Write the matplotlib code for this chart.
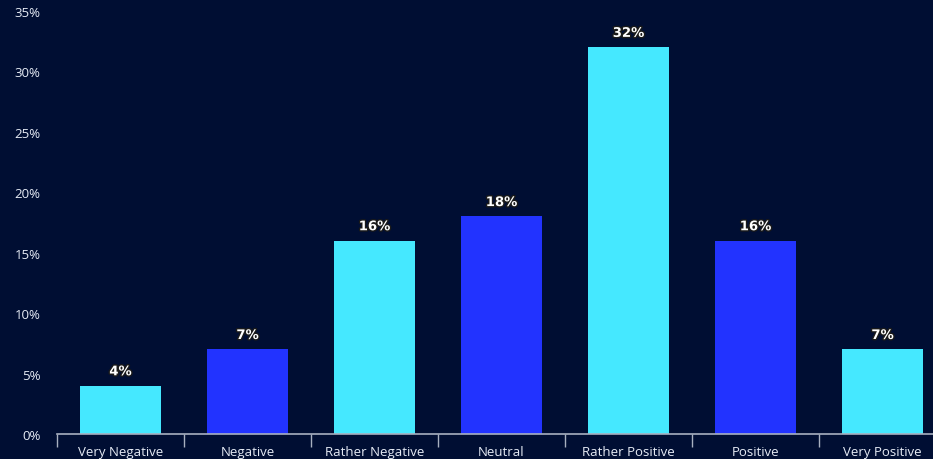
import numpy as np
import matplotlib.pyplot as plt
import matplotlib.patheffects as pe
from matplotlib.ticker import FixedLocator, NullFormatter

# Sentiment distribution
categories = ['Very Negative', 'Negative', 'Rather Negative', 'Neutral',
              'Rather Positive', 'Positive', 'Very Positive']
shares = [4, 7, 16, 18, 32, 16, 7]
bar_colors = ['#45e8ff', '#2233ff', '#45e8ff', '#2233ff', '#45e8ff', '#2233ff', '#45e8ff']

bg = '#000e33'
txt = '#e6ebf5'

fig = plt.figure(figsize=(9.33, 4.6), dpi=100, facecolor=bg)
ax = fig.add_axes([57 / 933, 25 / 460, 889 / 933, 423 / 460])
ax.set_facecolor(bg)

x = np.arange(len(categories))
ax.bar(x, shares, width=0.645, color=bar_colors, zorder=2)

for xi, v in zip(x, shares):
    ax.text(xi, v + 1.15, f'{v}%', ha='center', va='center', color='white',
            fontsize=9.5, fontweight='bold', family='DejaVu Sans',
            path_effects=[pe.withStroke(linewidth=2, foreground='#1a1a1a')])

ax.set_xlim(-0.5, len(categories) - 0.5)
ax.set_ylim(0, 35)
ax.set_yticks(range(0, 36, 5))
ax.set_yticklabels([f'{t}%' for t in range(0, 36, 5)], color=txt, fontsize=9.5, family='Open Sans')
ax.tick_params(axis='y', length=0, pad=12)

# category labels centered, tick marks at boundaries
ax.set_xticks(x)
ax.set_xticklabels(categories, color=txt, fontsize=9.5, family='Open Sans')
ax.tick_params(axis='x', which='major', length=0, pad=8)
ax.xaxis.set_minor_locator(FixedLocator(np.arange(-0.5, len(categories), 1)))
ax.xaxis.set_minor_formatter(NullFormatter())
ax.tick_params(axis='x', which='minor', length=9, width=1, color='#a8b0c0', direction='out')

for s in ['top', 'right', 'left']:
    ax.spines[s].set_visible(False)
ax.spines['bottom'].set_color('#a8b0c0')
ax.spines['bottom'].set_linewidth(1.2)

fig.savefig('out.png', dpi=100, facecolor=bg)
